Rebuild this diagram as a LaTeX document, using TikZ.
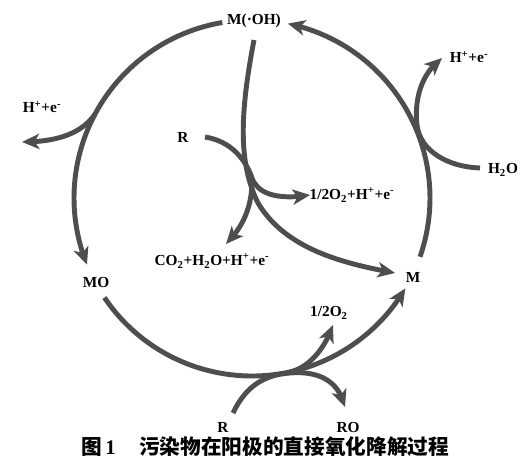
\documentclass[tikz,border=0pt]{standalone}
\usepackage{fontspec}
\setmainfont{Liberation Serif}
\newfontfamily\cjk{Noto Sans CJK SC}
\usetikzlibrary{arrows.meta,bending}
\definecolor{ink}{RGB}{78,78,78}
\begin{document}
\begin{tikzpicture}[x=0.75pt,y=0.75pt,
  lbl/.style={font=\fontsize{11.5}{13}\selectfont\bfseries, inner sep=0pt, text=black},
  captxt/.style={font=\fontsize{15.5}{18}\selectfont\bfseries, inner sep=0pt, text=black, anchor=west},
  flow/.style={draw=ink, line width=3.7pt, -{Stealth[length=13pt,width=11.5pt,inset=3.5pt]}},
  ]
\useasboundingbox (0,0) rectangle (531,463);
\coordinate (C) at (252,265);
% labels
\node[lbl] (moh) at (254,442) {M(·OH)};
\node[lbl] (hl) at (42,356) {H\textsuperscript{+}+e\textsuperscript{-}};
\node[lbl] (hr) at (469,406) {H\textsuperscript{+}+e\textsuperscript{-}};
\node[lbl] (h2o) at (503,293) {H\textsubscript{2}O};
\node[lbl] (ri) at (183,326) {R};
\node[lbl] (o2h) at (352,268) {1/2O\textsubscript{2}+H\textsuperscript{+}+e\textsuperscript{-}};
\node[lbl] (co2) at (212,202) {CO\textsubscript{2}+H\textsubscript{2}O+H\textsuperscript{+}+e\textsuperscript{-}};
\node[lbl] (mo) at (96,180) {MO};
\node[lbl] (m) at (413,186) {M};
\node[lbl] (o2) at (329,150) {1/2O\textsubscript{2}};
\node[lbl] (rb) at (223,36) {R};
\node[lbl] (ro) at (348,36) {RO};
\node[captxt] (fig) at (81,16) {\cjk 图\,{\rmfamily 1}};
\node[captxt] (title) at (139,16) {\cjk 污染物在阳极的直接氧化降解过程};
% main cycle
\draw[flow] ([shift={(99.6:178)}]C) arc[start angle=99.6, end angle=202, radius=178];
\draw[flow] ([shift={(214:178)}]C) arc[start angle=214, end angle=329.5, radius=178];
\draw[flow] ([shift={(-19.3:178)}]C) arc[start angle=-19.3, end angle=78.4, radius=178];
% side branches
\coordinate (lb) at ([shift={(152:178)}]C);
\coordinate (lbe) at (22,321);
\draw[flow] (lb) .. controls (83,332) and (62,321) .. (lbe);
\coordinate (rs) at (480,295);
\coordinate (rm) at (417,338);
\coordinate (re) at (442,405);
\draw[flow] (rs) .. controls (448,296) and (420,312) .. (rm) .. controls (414,365) and (422,390) .. (re);
% inner reactions
\coordinate (ms) at (254,423);
\coordinate (mj) at (258,260);
\coordinate (me) at (395,190);
\draw[flow] (ms) .. controls (240,350) and (238,300) .. (mj) .. controls (285,215) and (340,200) .. (me);
\coordinate (rs2) at (205,326);
\coordinate (rj) at (252,285);
\coordinate (re2) at (310,268);
\draw[flow] (rs2) .. controls (230,322) and (245,305) .. (rj) .. controls (258,268) and (280,263) .. (re2);
\coordinate (cs) at (252,282);
\coordinate (ce) at (226,219);
\draw[flow] (cs) .. controls (252,255) and (242,235) .. (ce);
% bottom reactions
\coordinate (bs) at (233,50);
\coordinate (bj) at (290,90);
\coordinate (be) at (345,56);
\draw[flow] (bs) .. controls (245,75) and (262,88) .. (bj) .. controls (315,92) and (338,85) .. (be);
\coordinate (os) at (290,91);
\coordinate (oe) at (333,138);
\draw[flow] (os) .. controls (310,96) and (325,115) .. (oe);
\end{tikzpicture}
\end{document}
